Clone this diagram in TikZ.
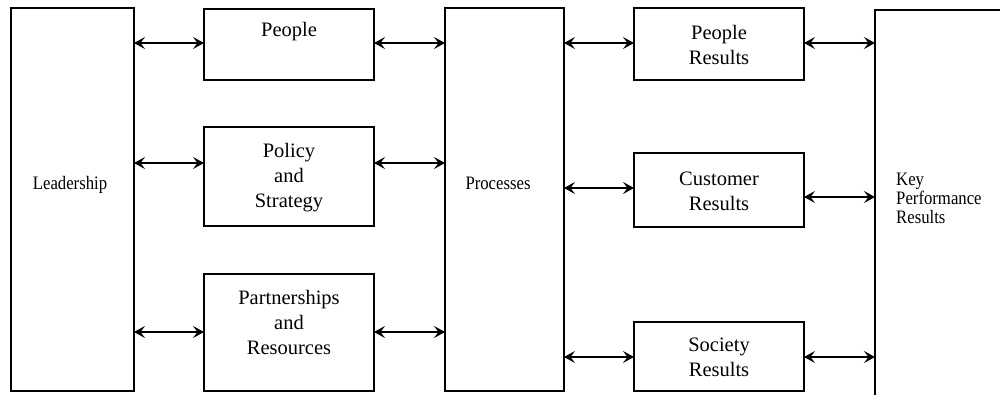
\documentclass[tikz,border=0pt]{standalone}
\usepackage{fontspec}
\setmainfont{Liberation Serif}
\usetikzlibrary{arrows.meta}

\tikzset{
  box/.style={draw, line width=2.8pt, inner sep=0pt, outer sep=0pt, anchor=north west},
  tip/.style={Stealth[length=11pt,width=12pt,inset=4.5pt]},
  arr/.style={line width=1.7pt, {Stealth[length=11pt,width=12pt,inset=4.5pt]}-{Stealth[length=11pt,width=12pt,inset=4.5pt]}},
  lbl/.style={align=center, inner sep=0pt, font=\fontsize{20.5}{25}\selectfont},
  tight/.style={inner sep=0pt, font=\fontsize{19}{19}\selectfont},
}
\newcommand{\narrow}[1]{\scalebox{0.88}[1]{#1}}

\begin{document}
\begin{tikzpicture}[x=1pt, y=-1pt]
\useasboundingbox (0,0) rectangle (1000,394);
\clip (0,0) rectangle (1000,394);

% boxes
\node[box, minimum width=123pt, minimum height=383pt] (lead) at (11,8) {};
\node[box, minimum width=170pt, minimum height=71pt]  (people) at (204,9) {};
\node[box, minimum width=170pt, minimum height=99pt]  (policy) at (204,127) {};
\node[box, minimum width=170pt, minimum height=117pt] (partner) at (204,274) {};
\node[box, minimum width=119pt, minimum height=383pt] (proc) at (445,8) {};
\node[box, minimum width=170pt, minimum height=72pt]  (pres) at (634,8) {};
\node[box, minimum width=170pt, minimum height=74pt]  (cres) at (634,153) {};
\node[box, minimum width=170pt, minimum height=69pt]  (sres) at (634,322) {};
\node[box, minimum width=140pt, minimum height=400pt] (kpr) at (875,10) {};

% texts
\node[tight] (leadtxt) at (70,185) {\narrow{Leadership}};
\node[lbl] (peopletxt) at (289,32) {People};
\node[lbl] (policytxt) at (289,178) {Policy\\and\\Strategy};
\node[lbl] (partnertxt) at (289,322) {Partnerships\\and\\Resources};
\node[tight] (proctxt) at (498,183) {\narrow{Processes}};
\node[lbl] (prestxt) at (719,45) {People\\Results};
\node[lbl] (crestxt) at (719,191) {Customer\\Results};
\node[lbl] (srestxt) at (719,357) {Society\\Results};
\node[tight, anchor=west, align=left] (kprtxt) at (896,198)
  {\narrow{Key}\\\narrow{Performance}\\\narrow{Results}};

% connector levels
\coordinate (ya) at (0,43);
\coordinate (yb) at (0,163);
\coordinate (yc) at (0,332);
\coordinate (yd) at (0,188);
\coordinate (ye) at (0,197);
\coordinate (yf) at (0,357);

% left column
\draw[arr] (lead.east |- ya) -- (people.west |- ya);
\draw[arr] (lead.east |- yb) -- (policy.west |- yb);
\draw[arr] (lead.east |- yc) -- (partner.west |- yc);
\draw[arr] (people.east |- ya) -- (proc.west |- ya);
\draw[arr] (policy.east |- yb) -- (proc.west |- yb);
\draw[arr] (partner.east |- yc) -- (proc.west |- yc);

% right column
\draw[arr] (proc.east |- ya) -- (pres.west |- ya);
\draw[arr] (proc.east |- yd) -- (cres.west |- yd);
\draw[arr] (proc.east |- yf) -- (sres.west |- yf);
\draw[arr] (pres.east |- ya) -- (kpr.west |- ya);
\draw[arr] (cres.east |- ye) -- (kpr.west |- ye);
\draw[arr] (sres.east |- yf) -- (kpr.west |- yf);
\end{tikzpicture}
\end{document}
